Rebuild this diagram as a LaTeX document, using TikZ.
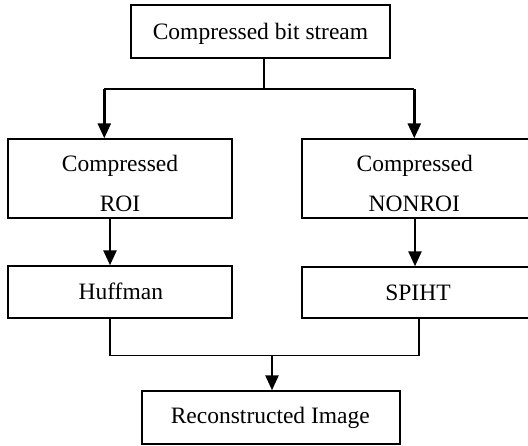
\documentclass[tikz,border=0pt]{standalone}
\usepackage{fontspec}
\setmainfont{Liberation Serif}
\usetikzlibrary{arrows.meta}
\begin{document}
\begin{tikzpicture}[x=1pt,y=-1pt,
  box/.style={draw, line width=1.4pt, inner sep=0pt},
  txt/.style={anchor=base, inner sep=0pt, font=\fontsize{23.5}{28}\selectfont},
  conn/.style={line width=1.6pt},
  arr/.style={line width=2.6pt, -{Triangle[width=13pt,length=15pt]}}]
\useasboundingbox (0,0) rectangle (528,446);
\fill[white] (0,0) rectangle (528,446);
% boxes
\node[box, minimum width=259pt, minimum height=53pt] (top) at (260.5,31.5) {};
\node[box, minimum width=224pt, minimum height=79pt] (roi) at (120,178.5) {};
\node[box, minimum width=228pt, minimum height=79pt] (nonroi) at (416,178.5) {};
\node[box, minimum width=224pt, minimum height=52pt] (huff) at (120,292) {};
\node[box, minimum width=228pt, minimum height=51pt] (spiht) at (416,292.5) {};
\node[box, minimum width=258pt, minimum height=53pt] (rec) at (271,417.5) {};
% texts
\node[txt] (ttop) at (260.5,39.3) {Compressed bit stream};
\node[txt] (troi1) at (120,171.7) {Compressed};
\node[txt] (troi2) at (120,211.7) {ROI};
\node[txt] (tnon1) at (414.7,171.7) {Compressed};
\node[txt] (tnon2) at (414.3,211.7) {NONROI};
\node[txt] (thuff) at (120.8,299.3) {Huffman};
\node[txt] (tspiht) at (418,300.7) {SPIHT};
\node[txt] (trec) at (270.3,423.3) {Reconstructed Image};
% top split
\coordinate (j1) at (263.7,89);
\coordinate (l1) at (104.3,89);
\coordinate (r1) at (414.3,89);
\draw[conn] (top.south -| j1) -- (j1);
\draw[conn] (l1) -- (r1);
\draw[arr] (l1) -- (l1 |- roi.north);
\draw[arr] (r1) -- (r1 |- nonroi.north);
% middle arrows
\draw[arr] ([xshift=-10pt]roi.south) -- ([xshift=-10pt]huff.north);
\draw[arr] ([xshift=-1pt]nonroi.south) -- ([xshift=-1pt]spiht.north);
% merge
\coordinate (m) at (272,355.7);
\draw[conn] ([xshift=-10pt]huff.south) |- (m) -| ([xshift=3pt]spiht.south);
\draw[arr] (m) -- (m |- rec.north);
\end{tikzpicture}
\end{document}
